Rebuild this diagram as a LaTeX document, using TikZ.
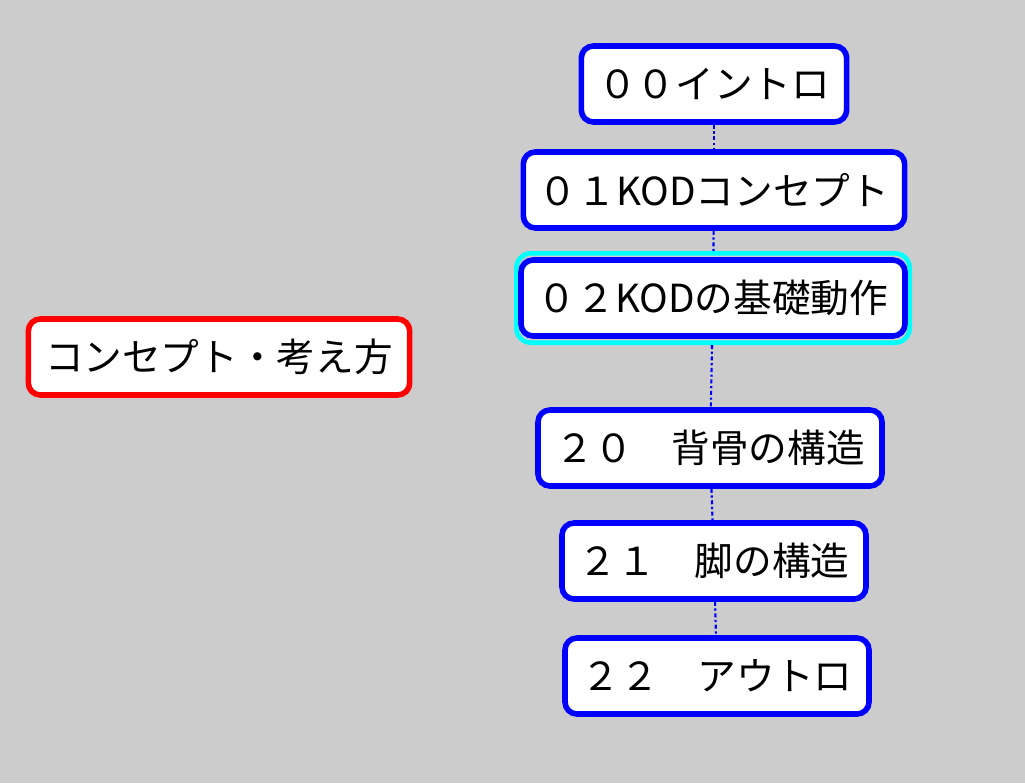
\documentclass[tikz,border=0pt]{standalone}
\usepackage{fontspec}
\setmainfont{Noto Sans CJK JP}
\definecolor{cy}{RGB}{0,255,255}
\begin{document}
\begin{tikzpicture}[x=0.75pt,y=-0.75pt,
  box/.style={draw=blue,line width=4.2pt,fill=white,rounded corners=9pt,minimum height=57pt,inner sep=0pt,font=\fontsize{29}{33}\selectfont},
  link/.style={blue,line width=1.6pt,dash dot}]
\fill[black!20] (0,0) rectangle (1025,783);
\useasboundingbox (0,0) rectangle (1025,783);
\node[box,minimum width=199pt] (a) at (714,84) {００イントロ};
\node[box,minimum width=286pt] (b) at (714,190) {０１KODコンセプト};
\node[draw=cy,line width=3.5pt,rounded corners=11pt,minimum width=295pt,minimum height=67pt] (cc) at (713,298) {};
\node[box,minimum width=288pt] (c) at (713,298) {０２KODの基礎動作};
\node[box,minimum width=258pt] (d) at (710,448) {２０　背骨の構造};
\node[box,minimum width=228pt] (e) at (714,561) {２１　脚の構造};
\node[box,minimum width=228pt] (f) at (717,676) {２２　アウトロ};
\node[box,draw=red,minimum width=286pt] (g) at (219,357) {コンセプト・考え方};
\draw[link] (a) -- (b);
\draw[link] (b) -- (cc);
\draw[link] (cc) -- (d);
\draw[link] (d) -- (e);
\draw[link] (e) -- (f);
\end{tikzpicture}
\end{document}
